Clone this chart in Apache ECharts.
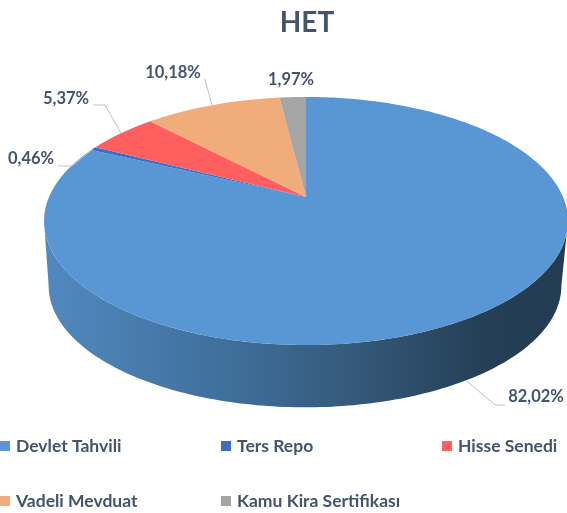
<!DOCTYPE html>
<html>
<head>
<meta charset="utf-8">
<style>
  html, body { margin: 0; padding: 0; background: #fff; }
  #main { width: 567px; height: 513px; }
</style>
<script src="https://cdn.jsdelivr.net/npm/echarts@6/dist/echarts.min.js"></script>
</head>
<body>
<div id="main"></div>
<script>
const titleText = 'HET';
const categories = ['Devlet Tahvili', 'Ters Repo', 'Hisse Senedi', 'Vadeli Mevduat', 'Kamu Kira Sertifikası'];
const shares = [82.02, 0.46, 5.37, 10.18, 1.97];
const shareLabels = ['82,02%', '0,46%', '5,37%', '10,18%', '1,97%'];
const colors = ['#5997d4', '#3f6dc0', '#ff5f5f', '#f0ac7b', '#a5a5a5'];

// perspective of the disc: top face and the floor it is extruded to
const tilt = 0.1935;
const topFace = { x: 306, y: 197, a: 257, b: 119.4 };
const floorFace = { x: 305, y: 262.5, a: 251.5, b: 116.8 };

// label text centre and leader elbow, same order as categories (null = no leader)
const labelAt = [[536, 397], [31, 159], [66, 99], [173, 73], [291, 80]];
const elbowAt = [[[495, 405], [505, 405]], [[72, 166], [58, 166]], [[105, 105], [93, 105]], [[205, 80], [204, 79]], null];

const ink = '#44546a';
const fontFamily = 'Lato, "Open Sans", sans-serif';

function project(deg, face) {
    const t = deg * Math.PI / 180;
    const u = Math.sin(t), v = Math.cos(t);
    const d = 1 + tilt * v;
    return [face.x + face.a * u / d, face.y - face.b * v / d];
}

function arc(from, to, face) {
    const pts = [];
    const n = Math.max(2, Math.ceil(Math.abs(to - from)));
    for (let i = 0; i <= n; i++) pts.push(project(from + (to - from) * i / n, face));
    return pts;
}

// the wall runs between the two points where the rim turns back
const rimTurn = Math.acos(-tilt) * 180 / Math.PI;

function renderWall() {
    const pts = arc(rimTurn, 360 - rimTurn, topFace).concat(arc(360 - rimTurn, rimTurn, floorFace));
    return {
        type: 'polygon',
        shape: { points: pts },
        style: {
            fill: new echarts.graphic.LinearGradient(0, 0, 1, 0, [
                { offset: 0, color: '#5189bf' },
                { offset: 0.35, color: '#3f6f9b' },
                { offset: 0.55, color: '#375d80' },
                { offset: 0.85, color: '#243e55' },
                { offset: 1, color: '#233c52' }
            ])
        },
        silent: true
    };
}

function renderSlice(params, api) {
    const start = api.value(0) * 3.6;
    const end = api.value(1) * 3.6;
    const i = params.seriesIndex - 1;
    const mid = (start + end) / 2;
    const children = [{
        type: 'polygon',
        shape: { points: [[topFace.x, topFace.y]].concat(arc(start, end, topFace)) },
        style: { fill: colors[i] }
    }];
    if (elbowAt[i]) {
        // leader starts on the visible outer edge of the slice
        const onFront = mid > rimTurn && mid < 360 - rimTurn;
        const anchor = project(mid, onFront ? floorFace : topFace);
        children.push({
            type: 'polyline',
            shape: { points: [anchor].concat(elbowAt[i]) },
            style: { fill: 'none', stroke: '#b9c3cf', lineWidth: 1 },
            z2: 5
        });
    }
    children.push({
        type: 'text',
        style: {
            text: shareLabels[i],
            x: labelAt[i][0],
            y: labelAt[i][1],
            align: 'center',
            verticalAlign: 'middle',
            fill: ink,
            font: 'bold 16.5px ' + fontFamily
        },
        z2: 6
    });
    return { type: 'group', children: children };
}

let running = 0;
const sliceSeries = categories.map(function (name, i) {
    const start = running;
    running += shares[i];
    return {
        type: 'custom',
        name: name,
        coordinateSystem: 'none',
        itemStyle: { color: colors[i] },
        renderItem: renderSlice,
        data: [[start, running]],
        silent: true,
        animation: false
    };
});

const legendStyle = {
    orient: 'vertical',
    itemWidth: 10,
    itemHeight: 10,
    itemGap: 37,
    icon: 'rect',
    selectedMode: false,
    textStyle: { color: ink, fontSize: 17.5, fontWeight: 'bold', fontFamily: fontFamily, padding: [0, 0, 0, 1] }
};

const chart = echarts.init(document.getElementById('main'), null, { renderer: 'canvas' });
chart.setOption({
    backgroundColor: '#fff',
    animation: false,
    title: {
        text: titleText,
        left: 302,
        top: 4,
        textAlign: 'center',
        textStyle: { color: ink, fontSize: 28, fontWeight: 'bold', fontFamily: fontFamily }
    },
    legend: [
        Object.assign({ left: 0, top: 437, padding: 0, data: [categories[0], categories[3]] }, legendStyle),
        Object.assign({ left: 221, top: 437, padding: 0, data: [categories[1], categories[4]] }, legendStyle),
        Object.assign({ left: 442, top: 437, padding: 0, data: [categories[2]] }, legendStyle)
    ],
    series: [{
        type: 'custom',
        coordinateSystem: 'none',
        renderItem: renderWall,
        data: [[0]],
        silent: true,
        animation: false
    }].concat(sliceSeries)
});
</script>
</body>
</html>
